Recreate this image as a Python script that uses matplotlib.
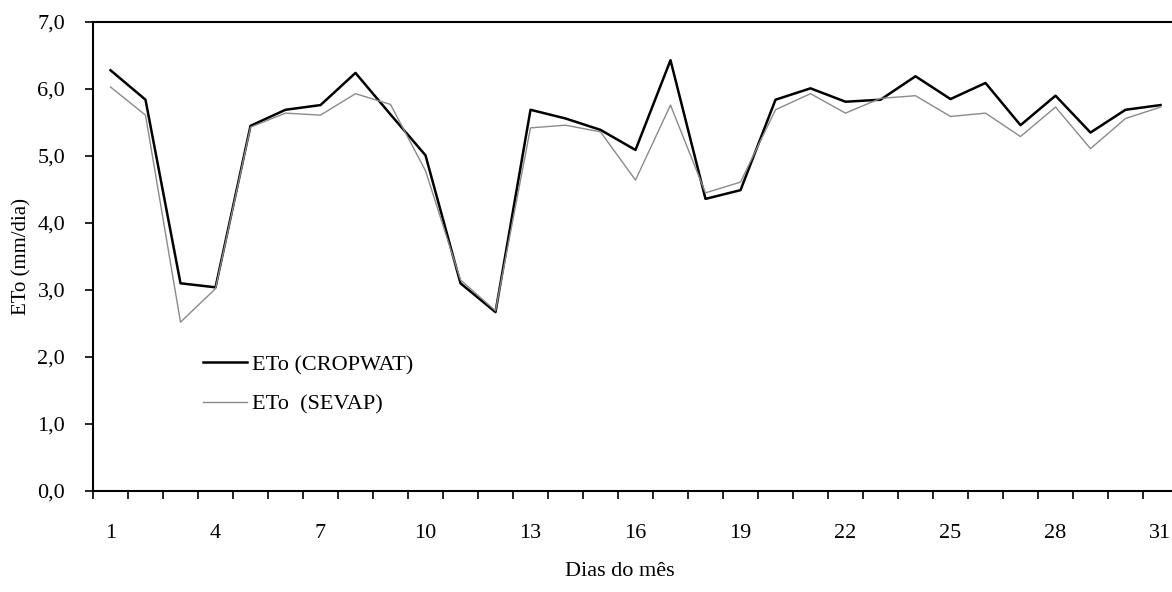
import matplotlib
matplotlib.use("Agg")
import matplotlib.pyplot as plt
from matplotlib.ticker import FixedLocator, FuncFormatter

days = list(range(1, 32))
eto_cropwat = [6.28, 5.84, 3.10, 3.04, 5.45, 5.69, 5.76, 6.24, 5.62, 5.01,
               3.10, 2.67, 5.69, 5.56, 5.39, 5.09, 6.43, 4.36, 4.49, 5.84,
               6.01, 5.81, 5.84, 6.19, 5.85, 6.09, 5.46, 5.90, 5.35, 5.69, 5.76]
eto_sevap = [6.03, 5.61, 2.52, 3.02, 5.43, 5.64, 5.61, 5.93, 5.77, 4.78,
             3.15, 2.69, 5.42, 5.46, 5.36, 4.64, 5.76, 4.45, 4.61, 5.69,
             5.93, 5.64, 5.86, 5.90, 5.59, 5.64, 5.29, 5.73, 5.11, 5.56, 5.73]
day_labels = [1, 4, 7, 10, 13, 16, 19, 22, 25, 28, 31]
y_ticks = [0, 1, 2, 3, 4, 5, 6, 7]

plt.rcParams["font.family"] = ["Liberation Serif", "DejaVu Serif"]

fig = plt.figure(figsize=(11.72, 5.92), dpi=100)
ax = fig.add_axes([93 / 1172, 101 / 592, 1085 / 1172, 469 / 592])

ax.plot(days, eto_cropwat, color="black", lw=1.8, label="ETo (CROPWAT)")
ax.plot(days, eto_sevap, color="#8a8a8a", lw=1.0, label="ETo  (SEVAP)")

ax.set_xlim(0.5, 31.5)
ax.set_ylim(0, 7)

ax.spines["right"].set_visible(False)
for s in ["left", "top", "bottom"]:
    ax.spines[s].set_linewidth(1.5)

# y axis
ax.set_yticks(y_ticks)
ax.yaxis.set_major_formatter(FuncFormatter(lambda v, p: f"{v:.1f}".replace(".", ",")))
ax.tick_params(axis="y", direction="out", length=6, width=1.2, pad=14, labelsize=16)

# x axis: ticks between days, labels on days
ax.xaxis.set_major_locator(FixedLocator(day_labels))
ax.xaxis.set_minor_locator(FixedLocator([d + 0.5 for d in range(0, 31)]))
ax.tick_params(axis="x", which="major", length=0, pad=24, labelsize=16)
ax.tick_params(axis="x", which="minor", direction="out", length=6, width=1.2)

ax.set_ylabel("ETo (mm/dia)", fontsize=15)
ax.yaxis.set_label_coords(-0.057, 0.5)
fig.text(620 / 1172, 1 - 572 / 592, "Dias do mês", fontsize=16, ha="center", va="center")

ax.legend(loc="upper left", bbox_to_anchor=(0.093, 0.31), frameon=False,
          fontsize=16, handlelength=2.0, handletextpad=0.2, labelspacing=0.85,
          borderaxespad=0)

fig.savefig("out.png", dpi=100)
